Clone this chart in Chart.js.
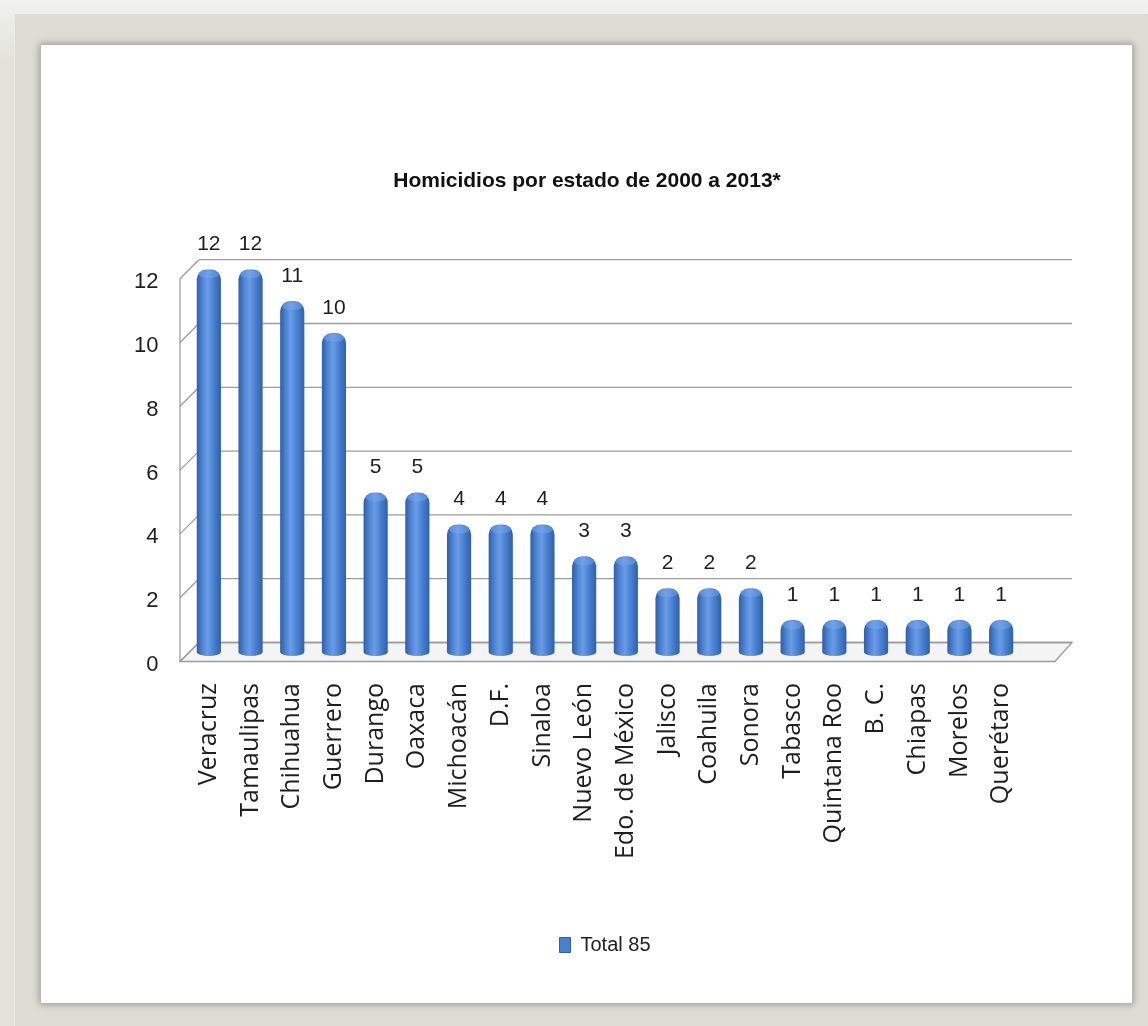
<!DOCTYPE html>
<html>
<head>
<meta charset="utf-8">
<script src="https://cdn.jsdelivr.net/npm/chart.js@4/dist/chart.umd.min.js"></script>
<style>
  html, body { margin: 0; padding: 0; }
  body { width: 1148px; height: 1026px; position: relative; overflow: hidden;
         background: linear-gradient(#f2f2ef, #e3e3db 60px); }
  .frame { position: absolute; left: 14px; top: 13px; right: 0; bottom: 0;
           background: #dcdcd2; border-left: 1px solid #ecece6; border-top: 1px solid #f0f0ea; }
  .panel { position: absolute; left: 40px; top: 44px; width: 1091px; height: 958px;
           background: #fff; border: 1px solid #b9b9b1;
           box-shadow: 0 0 7px rgba(0,0,0,0.35); }
  #myChart { position: absolute; left: 0; top: 0; }
</style>
</head>
<body>
<div class="frame"></div>
<div class="panel"></div>
<canvas id="myChart" width="1148" height="1026"></canvas>
<script>
const estados = [
  "Veracruz", "Tamaulipas", "Chihuahua", "Guerrero", "Durango", "Oaxaca",
  "Michoacán", "D.F.", "Sinaloa", "Nuevo León", "Edo. de México", "Jalisco",
  "Coahuila", "Sonora", "Tabasco", "Quintana Roo", "B. C.", "Chiapas",
  "Morelos", "Querétaro",
];
const homicidios = [12, 12, 11, 10, 5, 5, 4, 4, 4, 3, 3, 2, 2, 2, 1, 1, 1, 1, 1, 1];
const yTicks = [0, 2, 4, 6, 8, 10, 12];
const serieLabel = "Total 85";
const titulo = "Homicidios por estado de 2000 a 2013*";

const BAR_PCT = 0.58;
const DEPTH = 9.5;
const narrow = "'Liberation Sans Narrow', 'Liberation Sans', sans-serif";

const barWidth = (chart) => chart.scales.x.width / estados.length * BAR_PCT;

const cylinderFill = (c) => {
  const chart = c.chart;
  const xs = chart.scales && chart.scales.x;
  if (!xs || c.dataIndex == null || !chart.chartArea) return "#4a7fcf";
  const cx = xs.getPixelForValue(c.dataIndex);
  const w = barWidth(chart);
  const g = chart.ctx.createLinearGradient(cx - w / 2, 0, cx + w / 2, 0);
  g.addColorStop(0, "#2f5ea5");
  g.addColorStop(0.25, "#4f85d5");
  g.addColorStop(0.45, "#6a9de6");
  g.addColorStop(0.7, "#4a80d1");
  g.addColorStop(1, "#3061a8");
  return g;
};

// back wall, left wall and floor drawn from the scales
const wallPlugin = {
  id: "wall",
  beforeDatasetsDraw(chart) {
    const { ctx, chartArea: a, scales: { y } } = chart;
    const fl = a.left - 8, bl = a.left + 11;
    const fr = a.right + 33, br = a.right + 50;
    const y0 = y.getPixelForValue(0);
    ctx.save();
    ctx.fillStyle = "#f4f4f4";
    ctx.beginPath();
    ctx.moveTo(fl, y0 + DEPTH);
    ctx.lineTo(fr, y0 + DEPTH);
    ctx.lineTo(br, y0 - DEPTH);
    ctx.lineTo(bl, y0 - DEPTH);
    ctx.closePath();
    ctx.fill();
    ctx.strokeStyle = "#9c9c9c";
    ctx.lineWidth = 1.3;
    ctx.stroke();
    yTicks.forEach((v) => {
      const py = y.getPixelForValue(v);
      ctx.beginPath();
      ctx.moveTo(bl, py - DEPTH);
      ctx.lineTo(br, py - DEPTH);
      ctx.moveTo(fl, py + DEPTH);
      ctx.lineTo(bl, py - DEPTH);
      ctx.stroke();
    });
    const yTop = y.getPixelForValue(yTicks[yTicks.length - 1]);
    ctx.beginPath();
    ctx.moveTo(fl, y0 + DEPTH);
    ctx.lineTo(fl, yTop + DEPTH);
    ctx.stroke();
    ctx.restore();
  },
  afterDatasetsDraw(chart) {
    const { ctx } = chart;
    const meta = chart.getDatasetMeta(0);
    ctx.save();
    meta.data.forEach((bar, i) => {
      const w = bar.width;
      ctx.fillStyle = cylinderFill({ chart, dataIndex: i });
      ctx.beginPath();
      ctx.ellipse(bar.x, bar.base, w / 2, 4, 0, 0, Math.PI);
      ctx.fill();
      ctx.fillStyle = "rgba(120,165,235,0.5)";
      ctx.beginPath();
      ctx.ellipse(bar.x, bar.y + 5, w / 2 - 2, 4, 0, 0, Math.PI * 2);
      ctx.fill();
      ctx.fillStyle = "#1e1e1e";
      ctx.font = "21px " + narrow;
      ctx.textAlign = "center";
      ctx.textBaseline = "middle";
      ctx.fillText(String(homicidios[i]), bar.x, bar.y - 25);
    });
    ctx.restore();
  },
};

new Chart(document.getElementById("myChart"), {
  type: "bar",
  data: {
    labels: estados,
    datasets: [
      {
        label: serieLabel,
        data: homicidios,
        backgroundColor: cylinderFill,
        borderWidth: 0,
        borderRadius: { topLeft: 10, topRight: 10, bottomLeft: 0, bottomRight: 0 },
        borderSkipped: false,
        barPercentage: BAR_PCT,
        categoryPercentage: 1,
      },
    ],
  },
  options: {
    responsive: false,
    animation: false,
    layout: { padding: { left: 152, right: 126, top: 0, bottom: 61 } },
    plugins: {
      title: {
        display: true,
        text: titulo,
        color: "#111",
        font: { family: narrow, size: 21, weight: "bold" },
        padding: { top: 169, bottom: 75 },
      },
      legend: {
        position: "bottom",
        fullSize: false,
        labels: {
          color: "#222",
          font: { family: narrow, size: 20 },
          boxWidth: 11,
          boxHeight: 15,
          padding: 10,
          generateLabels: () => [
            { text: serieLabel, fillStyle: "#4a7fcf", strokeStyle: "#2f5fa6", lineWidth: 1, fontColor: "#222" },
          ],
        },
      },
      tooltip: { enabled: false },
    },
    scales: {
      x: {
        grid: { display: false },
        border: { display: false },
        ticks: {
          autoSkip: false,
          minRotation: 90,
          maxRotation: 90,
          padding: 23,
          color: "#1e1e1e",
          font: { family: "'Open Sans', sans-serif", size: 25 },
        },
        afterFit(s) { s.height = 273; },
      },
      y: {
        min: 0,
        max: 12,
        grid: { display: false, drawTicks: false },
        border: { display: false },
        ticks: {
          stepSize: 2,
          mirror: true,
          crossAlign: "far",
          padding: -54,
          labelOffset: 13,
          color: "#1e1e1e",
          font: { family: narrow, size: 22 },
        },
        afterFit(s) { s.width = 36; },
      },
    },
  },
  plugins: [wallPlugin],
});
</script>
</body>
</html>
